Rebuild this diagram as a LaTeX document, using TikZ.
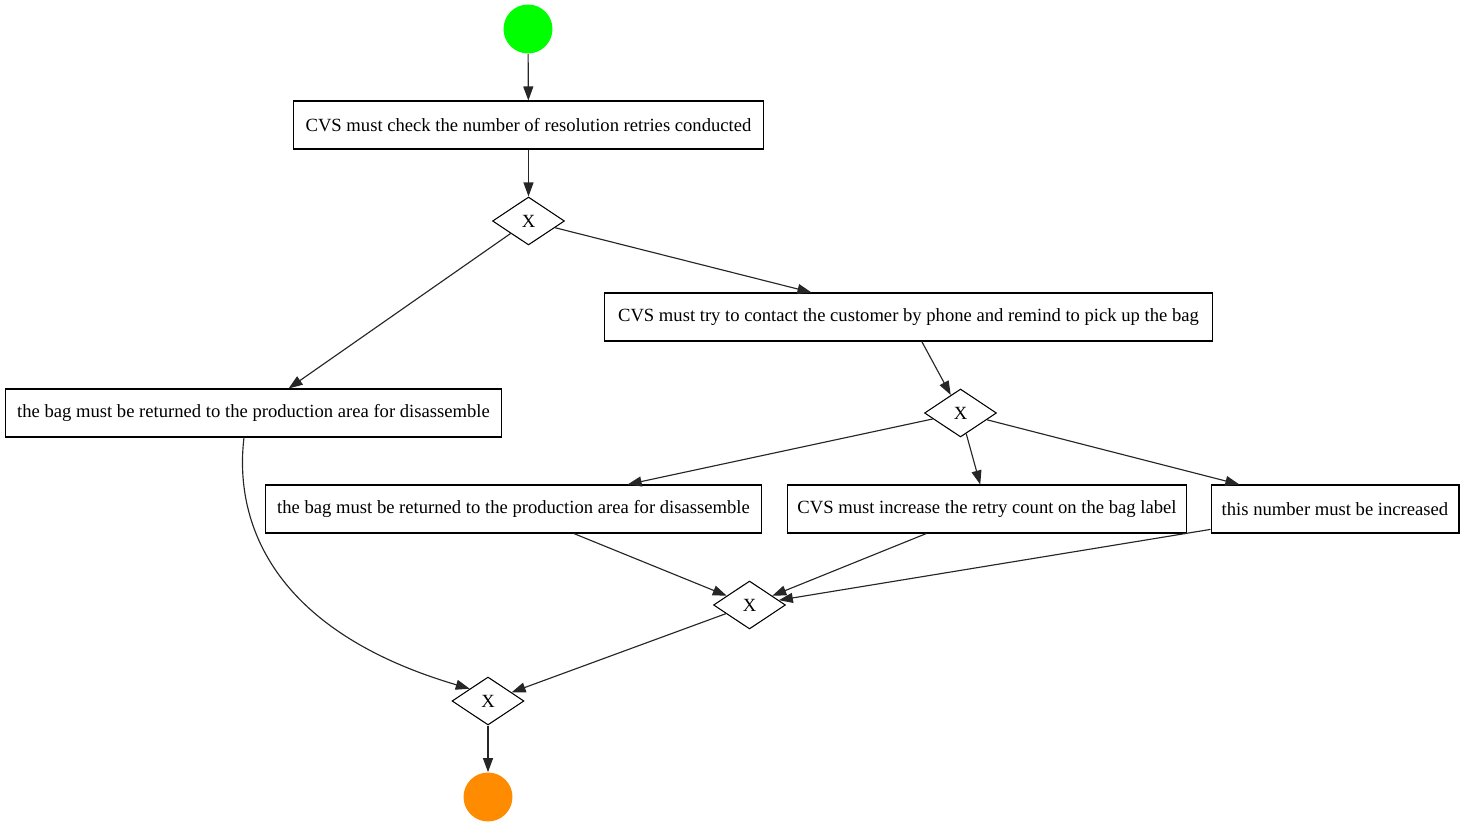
\documentclass[tikz,border=0pt]{standalone}
\usepackage{fontspec}
\setmainfont{Liberation Serif}
\usetikzlibrary{shapes.geometric,arrows.meta}
\begin{document}
\begin{tikzpicture}[x=0.02cm,y=-0.02cm,
  every node/.style={font=\fontsize{10.6}{12.5}\selectfont},
  task/.style={draw=black,line width=0.6pt,rectangle,inner sep=0pt,minimum height=0.96cm},
  gate/.style={draw=black,line width=0.6pt,diamond,inner sep=0pt,minimum width=1.44cm,minimum height=0.96cm},
  startev/.style={circle,fill={rgb,255:red,0;green,255;blue,0},minimum size=0.98cm,inner sep=0pt},
  endev/.style={circle,fill={rgb,255:red,255;green,140;blue,0},minimum size=0.98cm,inner sep=0pt},
  flow/.style={draw=black!85,line width=0.65pt,-{Triangle[length=0.28cm,width=0.2cm]}}]
\useasboundingbox (0,0) rectangle (1465,827);

% events
\node[startev] (start) at (528,29) {};
\node[endev] (end) at (488,797) {};

% tasks
\node[task,minimum width=9.42cm] (check) at (528.5,125) {CVS must check the number of resolution retries conducted};
\node[task,minimum width=12.18cm] (contact) at (908.5,317) {CVS must try to contact the customer by phone and remind to pick up the bag};
\node[task,minimum width=9.94cm] (ret1) at (253.5,413) {the bag must be returned to the production area for disassemble};
\node[task,minimum width=9.94cm] (ret2) at (513.5,509) {the bag must be returned to the production area for disassemble};
\node[task,minimum width=8.00cm] (retry) at (987,509) {CVS must increase the retry count on the bag label};
\node[task,minimum width=4.96cm] (incr) at (1335,509) {this number must be increased};

% exclusive gateways
\node[gate] (g1) at (528.5,221) {X};
\node[gate] (g2) at (960.5,413) {X};
\node[gate] (g3) at (749.5,605) {X};
\node[gate] (g4) at (488,701) {X};

% sequence flows
\draw[flow] (start) -- (check);
\draw[flow] (check) -- (g1);
\draw[flow] (g1) -- (ret1);
\draw[flow] (g1) -- (contact);
\draw[flow] (contact) -- (g2);
\draw[flow] (g2) -- (ret2);
\draw[flow] (g2) -- (retry);
\draw[flow] (g2) -- (incr);
\draw[flow] (ret2) -- (g3);
\draw[flow] (retry) -- (g3);
\draw[flow] (incr) -- (g3);
\draw[flow] (g3) -- (g4);
\draw[flow] (ret1.south -| 244,437) .. controls (234,520) and (270,630) .. (g4.north west);
\draw[flow] (g4) -- (end);
\end{tikzpicture}
\end{document}
